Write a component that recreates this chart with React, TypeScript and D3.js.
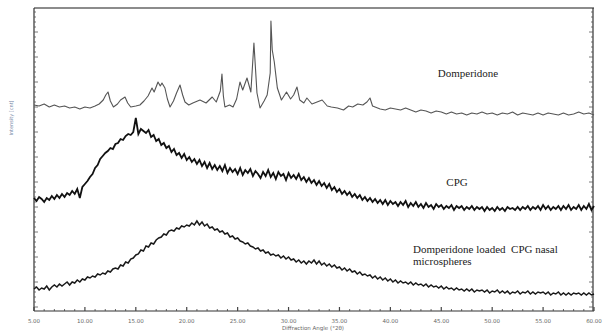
import React, { useEffect, useRef } from 'react';
import * as d3 from 'd3';

// diffraction angle grid for the two amorphous traces (°2θ)
const gridStart = 5;
const gridStep = 0.25;

// CPG trace, intensity (a.u.), one value per 0.25° from 5.00 to 60.00
const cpgCounts = [
  113, 110, 114, 112, 109, 113, 111, 115, 112, 116, 113, 117, 114, 118, 116, 120, 117, 122, 113, 124,
  127, 130, 134, 137, 143, 146, 152, 155, 158, 160, 163, 162, 167, 168, 172, 171, 175, 177, 176, 179,
  193, 177, 182, 180, 178, 181, 174, 176, 170, 172, 166, 168, 163, 165, 159, 162, 156, 158, 153, 157,
  151, 154, 149, 152, 147, 151, 145, 149, 143, 148, 142, 146, 141, 145, 140, 146, 138, 143, 139, 142,
  137, 143, 136, 141, 138, 142, 135, 140, 137, 133, 139, 135, 141, 134, 138, 132, 139, 135, 137, 131,
  138, 133, 136, 132, 137, 131, 134, 129, 133, 128, 131, 126, 130, 125, 128, 123, 127, 121, 124, 119,
  122, 117, 120, 116, 119, 114, 117, 113, 116, 111, 114, 110, 113, 109, 112, 108, 111, 107, 111, 106,
  110, 107, 109, 105, 109, 106, 110, 104, 108, 105, 109, 104, 107, 103, 108, 104, 106, 102, 107, 104,
  106, 102, 105, 103, 106, 101, 105, 103, 105, 101, 104, 102, 105, 101, 104, 102, 104, 100, 104, 101,
  103, 100, 104, 101, 103, 100, 104, 102, 103, 101, 104, 101, 104, 102, 105, 101, 104, 102, 105, 101,
  106, 102, 105, 101, 104, 102, 105, 101, 105, 102, 106, 101, 104, 102, 106, 101, 105, 102, 107, 101,
  105,
];

// Domperidone loaded CPG nasal microspheres, same grid
const loadedCounts = [
  22, 24, 21, 23, 22, 25, 21, 24, 26, 24, 27, 25, 27, 29, 26, 29, 28, 31, 29, 32,
  31, 34, 33, 35, 34, 37, 36, 38, 37, 40, 39, 42, 43, 42, 46, 45, 49, 48, 52, 53,
  56, 57, 61, 60, 65, 64, 68, 67, 71, 73, 74, 77, 76, 80, 81, 80, 83, 82, 85, 84,
  86, 85, 88, 86, 90, 86, 89, 85, 87, 83, 84, 81, 82, 79, 80, 77, 78, 74, 75, 72,
  73, 70, 69, 67, 68, 65, 64, 62, 63, 60, 61, 58, 59, 56, 57, 55, 56, 53, 55, 52,
  54, 51, 52, 49, 51, 48, 50, 47, 50, 48, 51, 47, 50, 46, 48, 45, 47, 44, 46, 43,
  44, 41, 43, 40, 42, 39, 40, 37, 39, 36, 37, 35, 36, 33, 35, 32, 34, 31, 33, 30,
  32, 29, 31, 28, 30, 28, 29, 27, 29, 26, 28, 26, 27, 25, 27, 24, 26, 24, 25, 23,
  25, 22, 24, 22, 23, 21, 23, 21, 22, 20, 22, 20, 22, 19, 21, 20, 21, 19, 21, 18,
  20, 19, 21, 18, 20, 18, 20, 17, 19, 18, 20, 17, 19, 18, 20, 17, 19, 17, 19, 18,
  19, 17, 19, 16, 18, 17, 19, 16, 18, 16, 18, 16, 18, 17, 18, 16, 18, 16, 18, 16,
  17,
];

// Domperidone (crystalline) trace, angles and intensities
const domAngles = [
  5.0, 5.5, 6.0, 6.5, 7.0, 7.5, 8.0, 8.5, 9.0, 9.5, 10.0, 10.5, 11.0, 11.4, 11.8, 12.05, 12.27, 12.5, 12.8, 13.2,
  13.5, 13.94, 14.2, 14.5, 15.0, 15.4, 15.8, 16.2, 16.59, 16.8, 17.18, 17.4, 17.57, 17.86, 18.1, 18.36, 18.7, 19.0, 19.34, 19.6,
  19.83, 20.2, 20.6, 21.3, 21.9, 22.5, 22.9, 23.3, 23.46, 23.6, 23.75, 24.2, 24.55, 24.9, 25.23, 25.5, 25.92, 26.3, 26.6, 26.9,
  27.2, 27.6, 27.9, 28.2, 28.27, 28.4, 28.6, 28.9, 29.3, 29.8, 30.2, 30.5, 30.83, 31.1, 31.5, 31.8, 32.3, 32.8, 33.3, 33.8,
  34.2, 34.8, 35.4, 35.9, 36.3, 36.8, 37.3, 37.7, 38.0, 38.25, 38.5, 39.0, 39.5, 40.0, 40.5, 41.0, 41.5, 42.0, 42.5, 43.0,
  43.5, 44.0, 44.5, 45.0, 45.5, 46.0, 46.5, 47.0, 47.5, 48.0, 48.5, 49.0, 49.5, 50.0, 50.5, 51.0, 51.5, 52.0, 52.5, 53.0,
  53.5, 54.0, 54.5, 55.0, 55.5, 56.0, 56.5, 57.0, 57.5, 58.0, 58.5, 59.0, 59.5, 60.0,
];
const domCounts = [
  206, 205, 207, 204, 206, 204, 205, 203, 204, 202, 204, 203, 205, 207, 211, 216, 219, 210, 204, 207,
  211, 214, 208, 204, 205, 206, 210, 215, 223, 219, 229, 225, 228, 223, 212, 204, 210, 218, 226, 216,
  209, 206, 208, 211, 208, 214, 209, 220, 237, 215, 204, 206, 204, 212, 229, 221, 233, 219, 268, 218,
  203, 210, 216, 238, 290, 261, 249, 223, 211, 219, 212, 216, 224, 211, 208, 213, 207, 209, 211, 205,
  204, 203, 201, 205, 204, 207, 206, 209, 213, 205, 204, 202, 201, 203, 202, 201, 203, 201, 199, 201,
  200, 198, 200, 199, 197, 199, 197, 198, 196, 198, 197, 199, 197, 198, 196, 198, 197, 199, 196, 198,
  197, 196, 198, 196, 198, 197, 196, 198, 196, 197, 199, 197, 198, 196,
];

const xMajorTicks = d3.range(5, 60.001, 5);
const xMinorTicks = d3.range(5, 60.001, 1);

const XRDChart = ({ width = 604, height = 331 }) => {
  const svgRef = useRef(null);

  useEffect(() => {
    if (!svgRef.current) return;

    const svg = d3.select(svgRef.current);
    svg.selectAll('*').remove();

    const left = 34, right = 594, top = 8, bottom = 311;

    const x = d3.scaleLinear().domain([5, 60]).range([left, right]);
    const y = d3.scaleLinear().domain([0, 303]).range([bottom, top]);

    const gridData = (vals) => vals.map((v, i) => ({ a: gridStart + i * gridStep, v }));
    const domData = domAngles.map((a, i) => ({ a, v: domCounts[i] }));

    const line = d3.line()
      .x(d => x(d.a))
      .y(d => y(d.v));

    // frame: top border
    svg.append('line')
      .attr('x1', left).attr('x2', right)
      .attr('y1', top).attr('y2', top)
      .attr('stroke', '#8c8c8c')
      .attr('stroke-width', 2);

    // left & right axes with inward ticks
    const yTicks = d3.range(4, 303, 5);
    [left, right - 1].forEach((ax, side) => {
      const dir = side === 0 ? 1 : -1;
      svg.append('line')
        .attr('x1', ax).attr('x2', ax)
        .attr('y1', top).attr('y2', bottom)
        .attr('stroke', '#333')
        .attr('stroke-width', 1.2);
      svg.selectAll(null)
        .data(yTicks)
        .join('line')
        .attr('x1', ax)
        .attr('x2', d => ax + dir * ((d - 4) % 25 === 0 ? 4 : 2))
        .attr('y1', d => y(d))
        .attr('y2', d => y(d))
        .attr('stroke', '#555')
        .attr('stroke-width', 0.8);
    });

    // bottom axis
    svg.append('line')
      .attr('x1', left).attr('x2', right)
      .attr('y1', bottom).attr('y2', bottom)
      .attr('stroke', '#333')
      .attr('stroke-width', 1.2);

    svg.selectAll('.xminor')
      .data(xMinorTicks)
      .join('line')
      .attr('class', 'xminor')
      .attr('x1', d => x(d)).attr('x2', d => x(d))
      .attr('y1', bottom).attr('y2', d => bottom - (d % 5 === 0 ? 4 : 2))
      .attr('stroke', '#444')
      .attr('stroke-width', d => (d % 5 === 0 ? 1.2 : 0.8));

    svg.selectAll('.xlab')
      .data(xMajorTicks)
      .join('text')
      .attr('class', 'xlab')
      .attr('x', d => x(d))
      .attr('y', 323)
      .attr('text-anchor', 'middle')
      .attr('font-family', 'DejaVu Sans, sans-serif')
      .attr('font-size', '5.5px')
      .attr('fill', '#666')
      .text(d => d.toFixed(2));

    svg.append('text')
      .attr('x', 313)
      .attr('y', 329.5)
      .attr('text-anchor', 'middle')
      .attr('font-family', 'DejaVu Sans, sans-serif')
      .attr('font-size', '5.5px')
      .attr('fill', '#666')
      .text('Diffraction Angle (°2θ)');

    svg.append('text')
      .attr('transform', 'translate(13, 118) rotate(-90)')
      .attr('text-anchor', 'middle')
      .attr('font-family', 'DejaVu Sans, sans-serif')
      .attr('font-size', '5px')
      .attr('fill', '#6f7fa3')
      .text('Intensity [cnt]');

    // traces
    svg.append('path')
      .datum(domData)
      .attr('fill', 'none')
      .attr('stroke', '#555')
      .attr('stroke-width', 1.1)
      .attr('stroke-linejoin', 'round')
      .attr('d', line);

    svg.append('path')
      .datum(gridData(cpgCounts))
      .attr('fill', 'none')
      .attr('stroke', '#111')
      .attr('stroke-width', 1.8)
      .attr('d', line);

    svg.append('path')
      .datum(gridData(loadedCounts))
      .attr('fill', 'none')
      .attr('stroke', '#1a1a1a')
      .attr('stroke-width', 1.5)
      .attr('d', line);

    // series labels
    const label = (tx, ty, txt, anchor = 'start') =>
      svg.append('text')
        .attr('x', tx)
        .attr('y', ty)
        .attr('text-anchor', anchor)
        .attr('font-family', 'Liberation Serif, serif')
        .attr('font-size', '11px')
        .attr('fill', '#222')
        .text(txt);

    label(468, 77, 'Domperidone', 'middle');
    label(457, 186, 'CPG', 'middle');
    label(413, 253, 'Domperidone loaded  CPG nasal').style('white-space', 'pre');
    label(413, 265, 'microspheres');
  }, [width, height]);

  return (
    <svg
      ref={svgRef}
      width={width}
      height={height}
      style={{ position: 'absolute', left: 0, top: 0, background: '#fff' }}
    ></svg>
  );
};

export default function App() {
  return <XRDChart />;
}
